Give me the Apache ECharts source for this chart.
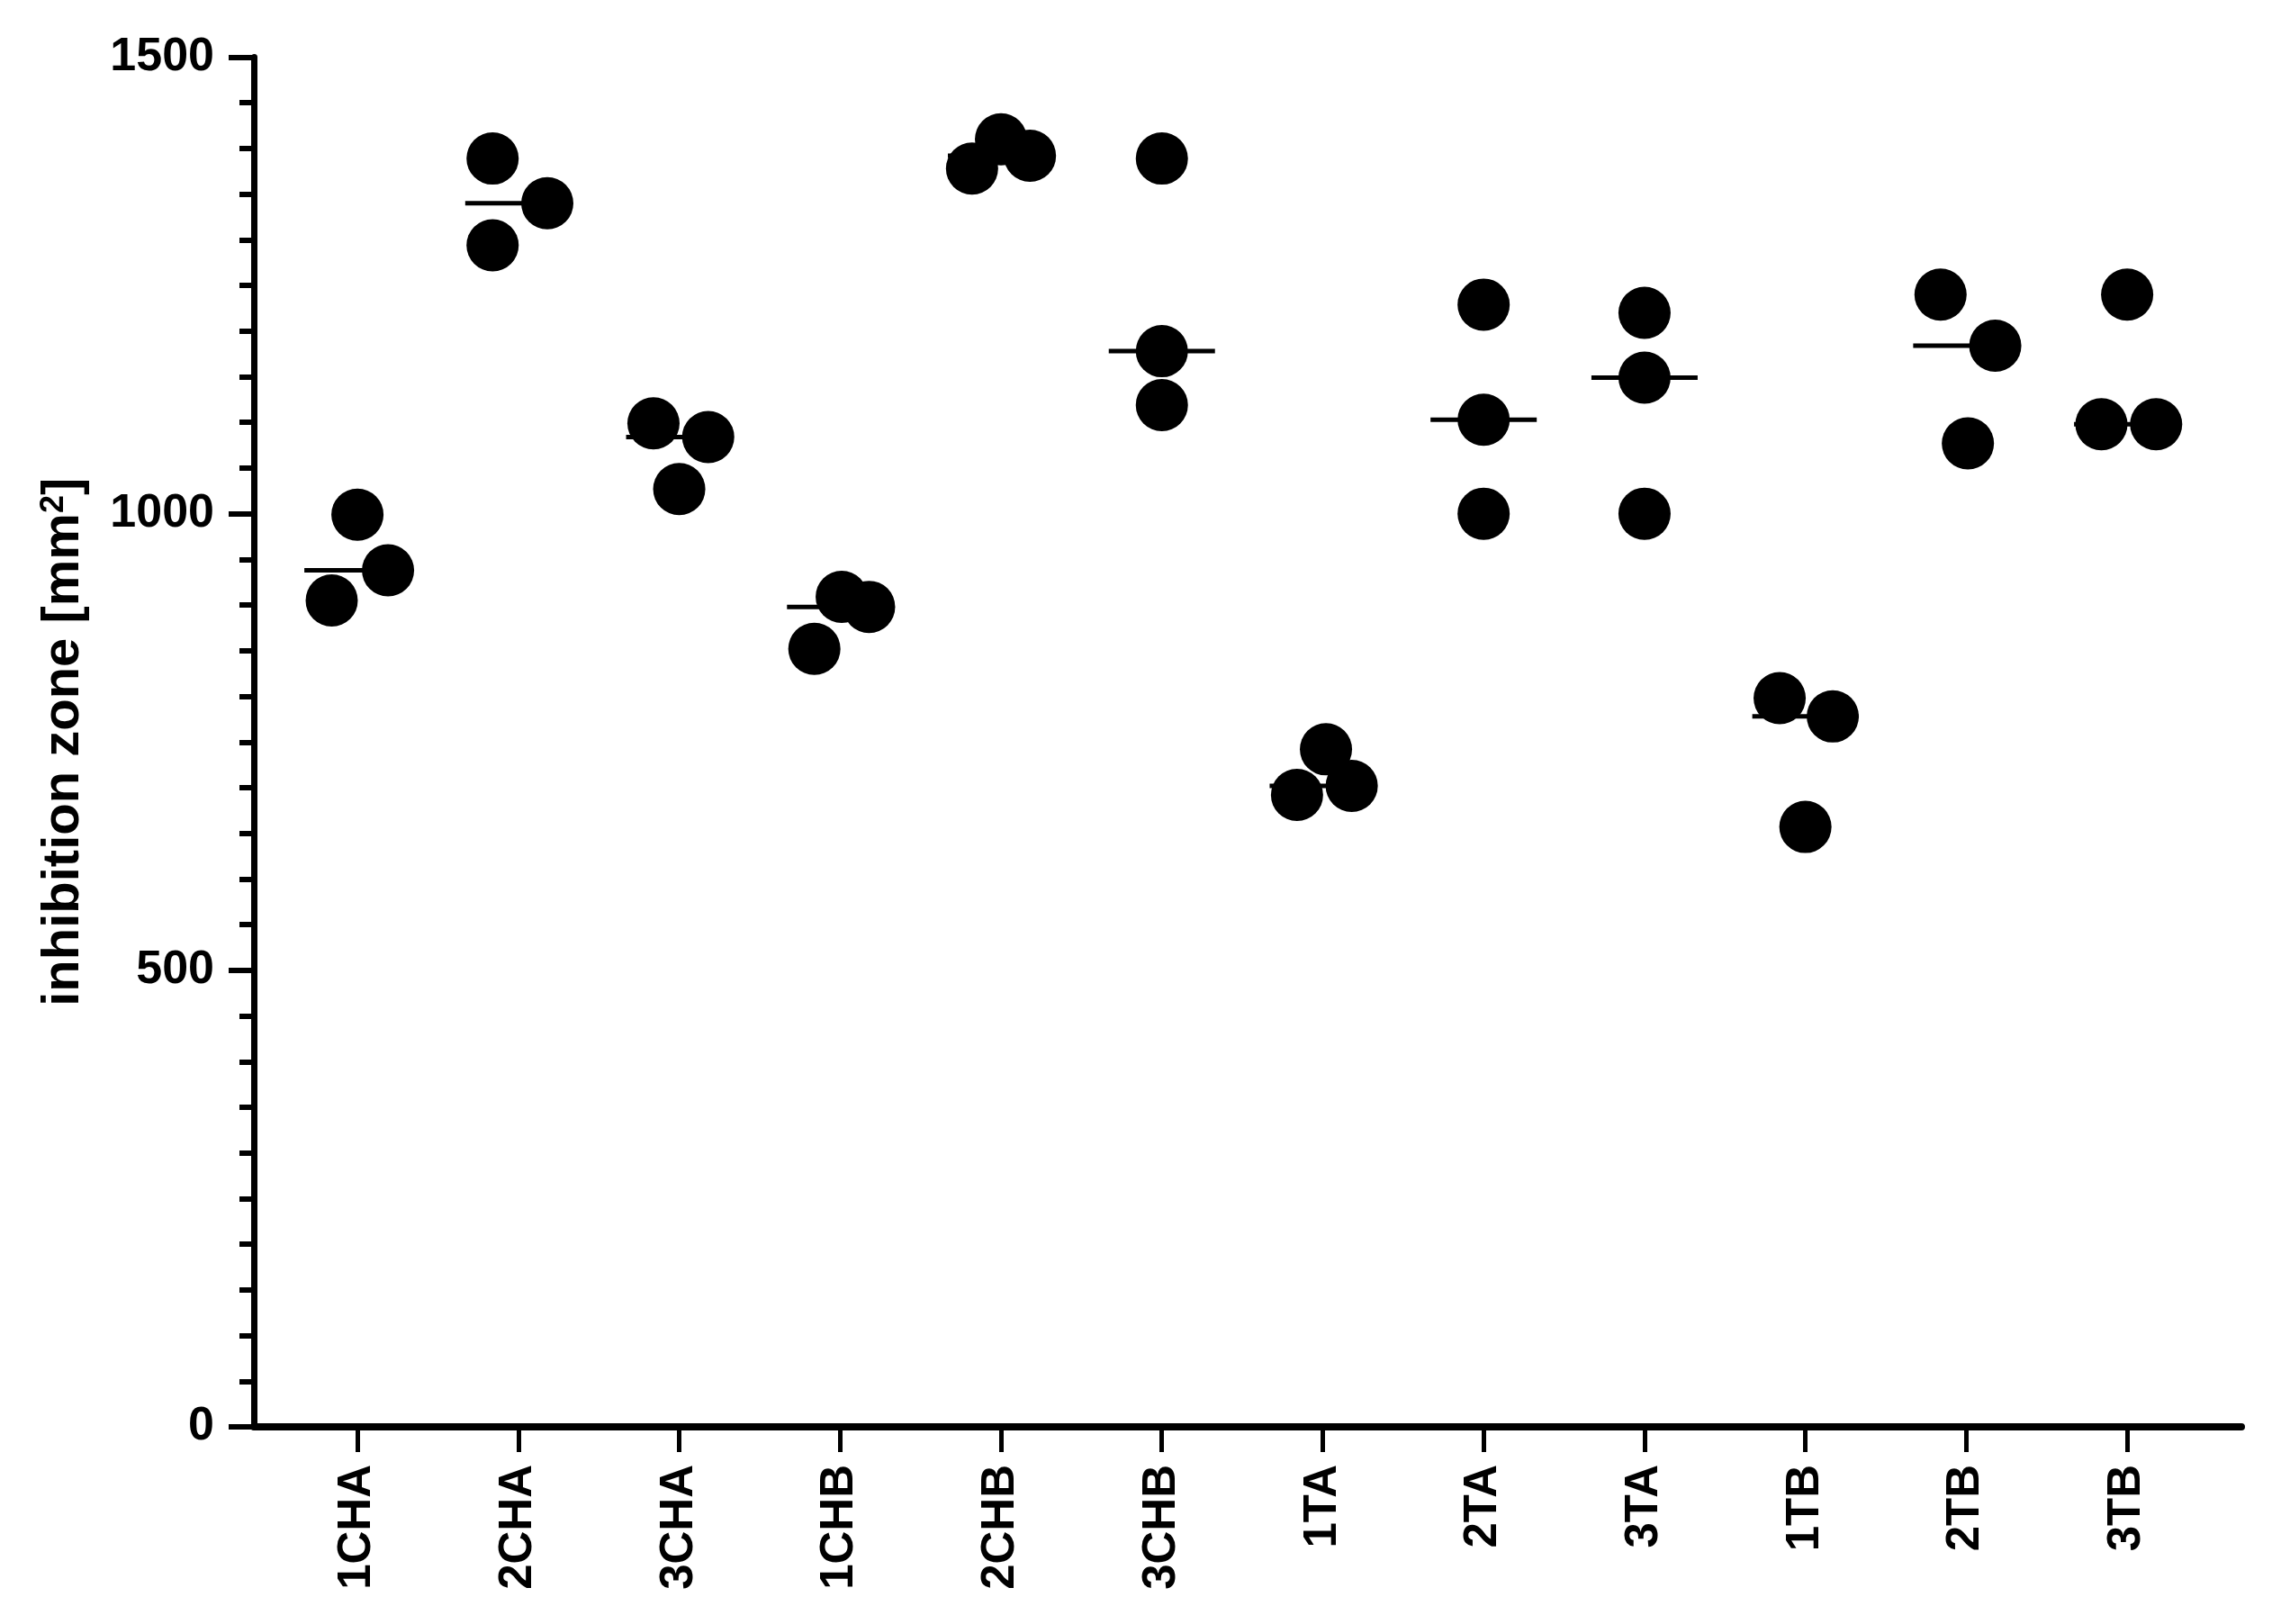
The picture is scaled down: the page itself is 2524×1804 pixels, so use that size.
<!DOCTYPE html>
<html>
<head>
<meta charset="utf-8">
<script src="https://cdn.jsdelivr.net/npm/echarts@6/dist/echarts.min.js"></script>
<style>
html,body{margin:0;padding:0;background:#ffffff;}
#chart{width:2524px;height:1804px;}
</style>
</head>
<body>
<div id="chart"></div>
<script>
// ---- data ----
const categories = ['1CHA','2CHA','3CHA','1CHB','2CHB','3CHB','1TA','2TA','3TA','1TB','2TB','3TB'];
// three replicate measurements per group (mm^2)
const rep1 = [905, 1389, 1099, 852, 1378, 1389, 692, 1229, 1220, 798, 1240, 1240];
const rep2 = [999, 1294, 1027, 909, 1410, 1178, 742, 1103, 1149, 657, 1077, 1098];
const rep3 = [938, 1340, 1084, 898, 1392, 1119, 702, 1000, 1000, 778, 1184, 1098];
// horizontal scatter spread of each replicate within its group (category units)
const spread1 = [-0.16, -0.16, -0.16, -0.16, -0.18, 0, -0.16, 0, 0, -0.16, -0.16, 0];
const spread2 = [0, -0.16, 0, 0.01, 0, 0, 0.02, 0, 0, 0, 0.01, -0.16];
const spread3 = [0.19, 0.18, 0.18, 0.18, 0.18, 0, 0.18, 0, 0, 0.17, 0.18, 0.18];
const yTicks = [0, 500, 1000, 1500];

// ---- build ----
const FONT = '"Liberation Sans", Arial, Helvetica, sans-serif';
function median(a){ const s=a.slice().sort((x,y)=>x-y); return s[1]; }
const points = [];
categories.forEach((c,i)=>{
  points.push([i + spread1[i], rep1[i]]);
  points.push([i + spread2[i], rep2[i]]);
  points.push([i + spread3[i], rep3[i]]);
});
const medians = categories.map((c,i)=>[i, median([rep1[i], rep2[i], rep3[i]])]);
const catIdx = categories.map((c,i)=>i);

const chart = echarts.init(document.getElementById('chart'), null, {renderer:'canvas'});
chart.setOption({
  backgroundColor: '#ffffff',
  animation: false,
  grid: {left: 282, right: 34, top: 63.5, bottom: 219, containLabel: false},
  xAxis: {
    type: 'value',
    min: -0.644, max: 11.71,
    axisLine: {show: true, onZero: false, lineStyle: {color: '#000', width: 8}},
    axisTick: {show: true, customValues: catIdx, length: 28, lineStyle: {color: '#000', width: 5}},
    axisLabel: {
      show: true, customValues: catIdx, rotate: 90, margin: 42,
      formatter: v => categories[Math.round(v)],
      color: '#000', fontSize: 51, fontWeight: 'bold', fontFamily: FONT
    },
    splitLine: {show: false}
  },
  yAxis: {
    type: 'value',
    min: yTicks[0], max: yTicks[yTicks.length-1], interval: 500,
    name: 'inhibition zone [mm{sup|2}]',
    nameLocation: 'middle',
    nameGap: 182,
    nameRotate: 90,
    nameTextStyle: {
      color: '#000', fontSize: 58, fontWeight: 'bold', fontFamily: FONT,
      rich: {sup: {color: '#000', fontSize: 36, fontWeight: 'bold', fontFamily: FONT, verticalAlign: 'top'}}
    },
    axisLine: {show: true, onZero: false, lineStyle: {color: '#000', width: 7}},
    axisTick: {show: true, length: 28, lineStyle: {color: '#000', width: 6}},
    minorTick: {show: true, splitNumber: 10, length: 16, lineStyle: {color: '#000', width: 6}},
    axisLabel: {color: '#000', fontSize: 52, fontWeight: 'bold', fontFamily: FONT, margin: 44,
      formatter: v => String(v)},
    splitLine: {show: false},
    minorSplitLine: {show: false}
  },
  series: [
    {
      type: 'scatter', name: 'median', z: 2,
      symbol: 'rect', symbolSize: [118, 5],
      itemStyle: {color: '#000', opacity: 1},
      data: medians
    },
    {
      type: 'scatter', name: 'replicates', z: 3,
      symbol: 'circle', symbolSize: 58,
      itemStyle: {color: '#000', opacity: 1},
      data: points
    }
  ]
});
</script>
</body>
</html>
